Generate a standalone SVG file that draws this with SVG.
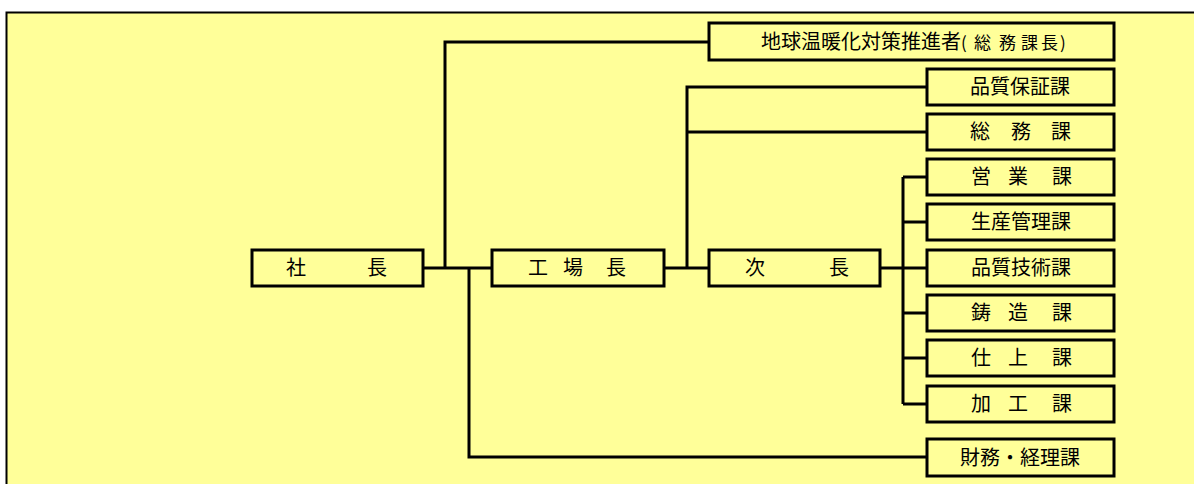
<svg xmlns="http://www.w3.org/2000/svg" width="1194" height="484" viewBox="0 0 1194 484">
<style>
.box{fill:#FFFF99;stroke:#000;stroke-width:3}
.ln{fill:none;stroke:#000;stroke-width:3}
text{font-family:"Noto Sans CJK JP","Noto Sans",sans-serif;font-size:20px;fill:#000}
.sm{font-size:17px}
</style>
<rect x="0" y="0" width="1194" height="484" fill="#fff"/>
<rect x="6" y="12" width="1190" height="474" fill="#FFFF99"/>
<path d="M6.5,484 V12.5 H1194" fill="none" stroke="#000" stroke-width="2"/>
<g id="connectors">
<path class="ln" d="M422,268 H492"/>
<path class="ln" d="M445,268 V42 H709"/>
<path class="ln" d="M469,268 V457 H927"/>
<path class="ln" d="M664,268 H709"/>
<path class="ln" d="M687,268 V87 H927 M687,132 H927"/>
<path class="ln" d="M880,268 H927 M903,177 V404 M903,177 H927 M903,222 H927 M903,313 H927 M903,358 H927 M903,404 H927"/>
</g>
<g id="shacho"><rect class="box" x="252" y="250" width="171" height="36"/><text x="286 367" y="275">社長</text></g>
<g id="kojocho"><rect class="box" x="492" y="250" width="172" height="36"/><text x="528 563 606" y="275">工場長</text></g>
<g id="jicho"><rect class="box" x="709" y="250" width="171" height="36"/><text x="745 829" y="275">次長</text></g>
<g id="ondanka"><rect class="box" x="709" y="23" width="405" height="37"/><text x="761" y="49">地球温暖化対策推進者<tspan class="sm" x="961">(</tspan><tspan class="sm" x="974 999 1021 1041">総務課長</tspan><tspan class="sm" x="1060">)</tspan></text></g>
<g id="hinshitsuhosho"><rect class="box" x="927" y="69" width="187" height="36"/><text x="970" y="94">品質保証課</text></g>
<g id="somu"><rect class="box" x="927" y="114" width="187" height="36"/><text x="970 1011 1051" y="139">総務課</text></g>
<g id="eigyo"><rect class="box" x="927" y="159" width="187" height="36"/><text x="971 1008 1052" y="184">営業課</text></g>
<g id="seisankanri"><rect class="box" x="927" y="204" width="187" height="36"/><text x="971" y="229">生産管理課</text></g>
<g id="hinshitsugijutsu"><rect class="box" x="927" y="250" width="187" height="36"/><text x="971" y="275">品質技術課</text></g>
<g id="chuzo"><rect class="box" x="927" y="295" width="187" height="36"/><text x="971 1008 1052" y="320">鋳造課</text></g>
<g id="shiage"><rect class="box" x="927" y="340" width="187" height="36"/><text x="971 1008 1052" y="365">仕上課</text></g>
<g id="kako"><rect class="box" x="927" y="386" width="187" height="36"/><text x="971 1008 1052" y="411">加工課</text></g>
<g id="zaimu"><rect class="box" x="927" y="439" width="187" height="37"/><text x="960" y="465">財務・経理課</text></g>
</svg>
